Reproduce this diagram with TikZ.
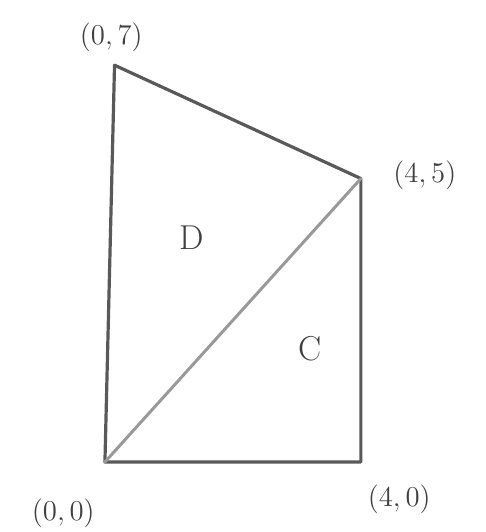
\documentclass[tikz,border=0pt]{standalone}
\usepackage{tikz}
\usetikzlibrary{calc}

\tikzset{edge/.style={draw=black!65, line width=1.6pt, line join=round, line cap=round},
  diag/.style={draw=black!40, line width=1.5pt, line cap=round},
  pt/.style={font=\Large, text=black!75},
  region/.style={font=\LARGE, text=black!75}}

\begin{document}
\begin{tikzpicture}[x=32pt,y=28.35pt]
\useasboundingbox (-1.64,-1.235) rectangle (5.95,8.15);
\coordinate (O) at (0,0);
\coordinate (A) at (4,0);
\coordinate (B) at (4,5);
\coordinate (T) at (0.15,7);
\draw [edge] (O) -- (A) -- (B) -- (T) -- cycle;
\draw [diag] (O) -- (B);
\node [pt] (lo) at (-0.65,-0.9) {$(0,0)$};
\node [pt] (la) at (4.6,-0.65) {$(4,0)$};
\node [pt] (lb) at (5.0,5.05) {$(4,5)$};
\node [pt] (lt) at (0.1,7.5) {$(0,7)$};
\node [region] (d) at (1.35,3.95) {D};
\node [region] (c) at (3.2,2.0) {C};
\end{tikzpicture}
\end{document}
